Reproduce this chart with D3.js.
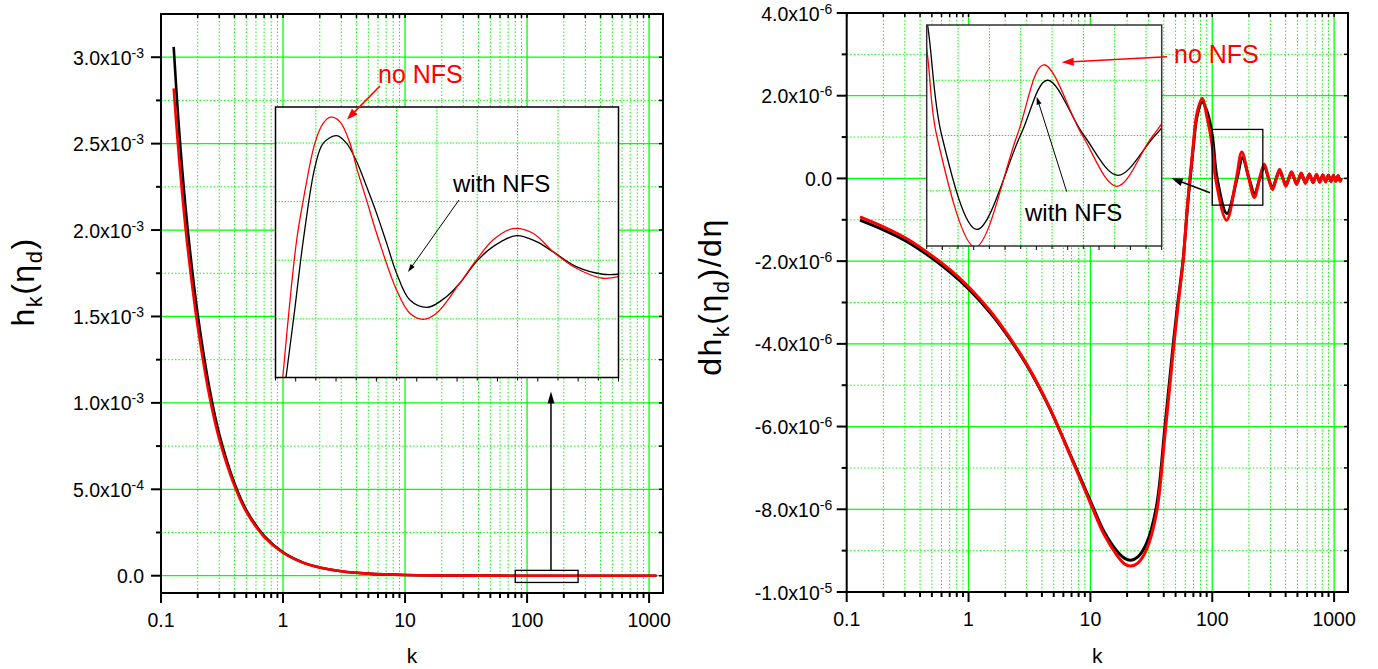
<!DOCTYPE html>
<html>
<head>
<meta charset="utf-8">
<script src="https://cdn.jsdelivr.net/npm/d3@7"></script>
<style>
  html, body { margin: 0; padding: 0; background: #fff; }
  text { font-family: "Liberation Sans", Arial, sans-serif; }
</style>
</head>
<body>
<script>
// ---------------- DATA ----------------
// Left panel: h_k(eta_d), values in units of 1e-3
const kMain      = [0.127, 0.14, 0.16, 0.18, 0.2, 0.25, 0.3, 0.4, 0.5, 0.7, 1, 1.5, 2, 3, 5, 10, 20, 50, 100, 200, 500, 1150];
const hWithNFS   = [3.06, 2.60, 2.11, 1.77, 1.51, 1.08, 0.82, 0.535, 0.38, 0.23, 0.135, 0.073, 0.048, 0.026, 0.012, 0.004, 0.0015, 0.0004, 0.0001, 0.00003, 0.00001, 0];
const hNoNFS     = [2.82, 2.43, 1.99, 1.68, 1.44, 1.035, 0.79, 0.52, 0.37, 0.225, 0.133, 0.072, 0.0475, 0.026, 0.012, 0.004, 0.0015, 0.0004, 0.0001, 0.00003, 0.00001, 0];

// Left inset (magnified oscillation, arbitrary units)
const insetKWith = [84, 85.2, 89.5, 93.8, 99.6, 103.7, 110.3, 115.2, 120.2, 125, 130.1, 135, 140, 146.6, 155.6, 164.7, 171.3, 179.6, 187.8, 199.4, 209.3, 217.5, 229.1, 242.3, 250];
const insetHWith = [-2.35, -2.0, -0.85, 0.346, 1.597, 1.997, 2.126, 1.997, 1.683, 1.27, 0.80, 0.30, -0.22, -0.677, -0.802, -0.621, -0.392, -0.024, 0.232, 0.42, 0.317, 0.147, -0.109, -0.239, -0.239];
const insetKNo   = [82.6, 83.6, 87, 90.5, 93.8, 99.6, 103.7, 107.3, 111.9, 116.9, 120.5, 125.1, 130.1, 140, 146.6, 153.2, 159.8, 171.3, 179.6, 187.8, 197.7, 207.6, 217.5, 229.1, 242.3, 250];
const insetHNo   = [-2.35, -2.0, -0.75, 0.346, 1.029, 2.007, 2.338, 2.44, 2.365, 1.997, 1.541, 1.029, 0.461, -0.507, -0.904, -1.007, -0.904, -0.392, 0.005, 0.346, 0.539, 0.461, 0.147, -0.137, -0.307, -0.28];

// Right panel: dh_k/deta, values in units of 1e-6
const kDerivWith = [0.1285, 0.2, 0.3, 0.45, 0.7, 1, 1.5, 2, 3, 4.5, 6.5, 10, 13, 16.4, 19, 21.5, 24.5, 28.8, 34.8, 40.9, 47.9, 52.5, 57.6, 63, 69.5, 75, 82.6, 91, 100, 109.6, 132, 159.8, 177, 200.4, 222, 245.8, 267, 290, 312, 335, 357, 380, 402, 425, 447, 470, 492, 515, 537, 560, 582, 605, 627, 650, 672, 695, 717, 740, 762, 785, 807, 830, 852, 875, 897, 920, 942, 965, 987, 1010, 1032, 1055, 1077, 1100, 1122, 1145];
const dhWithNFS  = [-1.01, -1.245, -1.50, -1.83, -2.26, -2.67, -3.24, -3.72, -4.51, -5.48, -6.53, -7.8, -8.55, -9.0, -9.18, -9.23, -9.15, -8.83, -7.94, -6.0, -3.99, -2.94, -1.98, -0.6, 0.68, 1.5, 1.85, 1.6, 1.05, 0, -0.85, 0, 0.50, 0, -0.36, 0, 0.29, 0, -0.23, 0, 0.19, 0, -0.16, 0, 0.14, 0, -0.125, 0, 0.115, 0, -0.105, 0, 0.10, 0, -0.095, 0, 0.09, 0, -0.085, 0, 0.08, 0, -0.075, 0, 0.075, 0, -0.07, 0, 0.07, 0, -0.065, 0, 0.065, 0, -0.06, 0];
const kDerivNo   = [0.1285, 0.2, 0.3, 0.45, 0.7, 1, 1.5, 2, 3, 4.5, 6.5, 10, 13, 16.4, 19, 21.5, 24.5, 28.8, 34.8, 40.9, 47.9, 52.5, 57.6, 63, 69.5, 75, 82.6, 91, 100, 106.4, 131, 157.7, 174.7, 199.4, 221.4, 244.5, 267, 290, 312, 335, 357, 380, 402, 425, 447, 470, 492, 515, 537, 560, 582, 605, 627, 650, 672, 695, 717, 740, 762, 785, 807, 830, 852, 875, 897, 920, 942, 965, 987, 1010, 1032, 1055, 1077, 1100, 1122, 1145];
const dhNoNFS    = [-0.93, -1.17, -1.43, -1.77, -2.2, -2.62, -3.2, -3.69, -4.49, -5.47, -6.55, -7.85, -8.62, -9.1, -9.32, -9.37, -9.3, -8.98, -8.1, -6.2, -4.15, -3.05, -2.0, -0.55, 0.75, 1.58, 1.93, 1.45, 0.78, 0, -1.01, 0, 0.64, 0, -0.46, 0, 0.34, 0, -0.27, 0, 0.22, 0, -0.19, 0, 0.16, 0, -0.145, 0, 0.13, 0, -0.12, 0, 0.11, 0, -0.105, 0, 0.10, 0, -0.095, 0, 0.09, 0, -0.085, 0, 0.08, 0, -0.08, 0, 0.075, 0, -0.075, 0, 0.07, 0, -0.07, 0];

// Tick values and labels
const xTickValues = [0.1, 1, 10, 100, 1000];
const xTickLabels = ["0.1", "1", "10", "100", "1000"];
const leftYTickValues = [0, 0.5, 1.0, 1.5, 2.0, 2.5, 3.0];
const leftYTickMant   = ["0.0", "5.0", "1.0", "1.5", "2.0", "2.5", "3.0"];
const leftYTickExp    = ["", "-4", "-3", "-3", "-3", "-3", "-3"];
const leftYMinor      = [0.25, 0.75, 1.25, 1.75, 2.25, 2.75];
const rightYTickValues = [-10, -8, -6, -4, -2, 0, 2, 4];
const rightYTickMant   = ["-1.0", "-8.0", "-6.0", "-4.0", "-2.0", "0.0", "2.0", "4.0"];
const rightYTickExp    = ["-5", "-6", "-6", "-6", "-6", "", "-6", "-6"];
const rightYMinor      = [-9, -7, -5, -3, -1, 1, 3];

// ---------------- DRAWING ----------------
const W = 1378, H = 669;
const GREEN = "#00ff00";
const svg = d3.select("body").append("svg").attr("width", W).attr("height", H);
const defs = svg.append("defs");
const CURVE = d3.curveCatmullRom.alpha(0.5);

const xMinorAll = [];
[0.1, 1, 10, 100, 1000].forEach(d => { for (let m = 2; m <= 9; m++) { const v = +(m * d).toPrecision(3); if (v < 1300) xMinorAll.push(v); } });

function clip(id, x, y, w, h) {
  defs.append("clipPath").attr("id", id).append("rect").attr("x", x).attr("y", y).attr("width", w).attr("height", h);
}

function arrow(g, x1, y1, x2, y2, color, lw, hl, hw) {
  const a = Math.atan2(y2 - y1, x2 - x1);
  const bx = x2 - hl * Math.cos(a), by = y2 - hl * Math.sin(a);
  g.append("line").attr("x1", x1).attr("y1", y1).attr("x2", bx + Math.cos(a)).attr("y2", by + Math.sin(a))
    .attr("stroke", color).attr("stroke-width", lw);
  const s = Math.sin(a), c = Math.cos(a);
  g.append("polygon").attr("points", [
    [x2, y2], [bx + hw / 2 * s, by - hw / 2 * c], [bx - hw / 2 * s, by + hw / 2 * c]
  ].map(p => p.join(",")).join(" ")).attr("fill", color);
}

function panel(cfg) {
  const { x0, x1, y0, y1, xs, ys, yMaj, yMin, yMant, yExp, id, labelGap, lw } = cfg;
  const g = svg.append("g");
  clip(id, x0, y0, x1 - x0, y1 - y0);
  const grid = g.append("g");
  xMinorAll.forEach(v => grid.append("line").attr("x1", xs(v)).attr("x2", xs(v)).attr("y1", y0).attr("y2", y1)
    .attr("stroke", GREEN).attr("stroke-width", 1).attr("stroke-dasharray", "1.5,2"));
  yMin.forEach(v => grid.append("line").attr("x1", x0).attr("x2", x1).attr("y1", ys(v)).attr("y2", ys(v))
    .attr("stroke", GREEN).attr("stroke-width", 1).attr("stroke-dasharray", "1.5,2"));
  xTickValues.slice(1).forEach(v => grid.append("line").attr("x1", xs(v)).attr("x2", xs(v)).attr("y1", y0).attr("y2", y1)
    .attr("stroke", GREEN).attr("stroke-width", 1.3));
  yMaj.forEach(v => { if (ys(v) > y0 + 1 && ys(v) < y1 - 1) grid.append("line").attr("x1", x0).attr("x2", x1).attr("y1", ys(v)).attr("y2", ys(v))
    .attr("stroke", GREEN).attr("stroke-width", 1.3); });
  const line = d3.line().x(d => xs(d[0])).y(d => ys(d[1])).curve(CURVE);
  const cg = g.append("g").attr("clip-path", `url(#${id})`);
  cg.append("path").attr("d", line(cfg.black)).attr("fill", "none").attr("stroke", "#000").attr("stroke-width", lw);
  cg.append("path").attr("d", line(cfg.red)).attr("fill", "none").attr("stroke", "#ff0000").attr("stroke-width", lw);
  const ax = g.append("g");
  ax.append("rect").attr("x", x0).attr("y", y0).attr("width", x1 - x0).attr("height", y1 - y0)
    .attr("fill", "none").attr("stroke", "#000").attr("stroke-width", 2);
  yMaj.forEach(v => ax.append("line").attr("x1", x0 - 10).attr("x2", x0).attr("y1", ys(v)).attr("y2", ys(v)).attr("stroke", "#000").attr("stroke-width", 2));
  yMin.forEach(v => ax.append("line").attr("x1", x0 - 5).attr("x2", x0).attr("y1", ys(v)).attr("y2", ys(v)).attr("stroke", "#000").attr("stroke-width", 2));
  yMaj.concat(yMin).forEach(v => ax.append("line").attr("x1", x1 - 4).attr("x2", x1).attr("y1", ys(v)).attr("y2", ys(v)).attr("stroke", "#000").attr("stroke-width", 1.5));
  xTickValues.forEach(v => ax.append("line").attr("x1", xs(v)).attr("x2", xs(v)).attr("y1", y1).attr("y2", y1 + 10).attr("stroke", "#000").attr("stroke-width", 2));
  xMinorAll.forEach(v => ax.append("line").attr("x1", xs(v)).attr("x2", xs(v)).attr("y1", y1).attr("y2", y1 + 5).attr("stroke", "#000").attr("stroke-width", 2));
  xTickValues.concat(xMinorAll).forEach(v => ax.append("line").attr("x1", xs(v)).attr("x2", xs(v)).attr("y1", y0).attr("y2", y0 + 4).attr("stroke", "#000").attr("stroke-width", 1.5));
  yMaj.forEach((v, i) => {
    const t = ax.append("text").attr("x", x0 - 10 - labelGap).attr("y", ys(v) + 7.5).attr("text-anchor", "end").attr("font-size", 19.5);
    t.append("tspan").text(yExp[i] ? yMant[i] + "x10" : yMant[i]);
    if (yExp[i]) t.append("tspan").attr("dy", -7).attr("font-size", 14).text(yExp[i]);
  });
  xTickValues.forEach((v, i) => ax.append("text").attr("x", xs(v)).attr("y", y1 + 34).attr("text-anchor", "middle").attr("font-size", 19.5).text(xTickLabels[i]));
  ax.append("text").attr("x", (x0 + x1) / 2).attr("y", 663).attr("text-anchor", "middle").attr("font-size", 21).text("k");
  return g;
}

function yTitle(x, y, parts) {
  const t = svg.append("text").attr("transform", `translate(${x},${y}) rotate(-90)`).attr("text-anchor", "middle")
    .attr("font-size", 32).attr("letter-spacing", 1.5);
  let cur = 0;
  parts.forEach(p => {
    const off = p.sub ? 8 : 0;
    t.append("tspan").attr("dy", off - cur).attr("font-size", p.sub ? 22 : 32).text(p.t);
    cur = off;
  });
}

function inset(cfg) {
  const { x0, x1, y0, y1, xs, ys, gx, gy, ticks, id } = cfg;
  const g = svg.append("g");
  clip(id, x0, y0, x1 - x0, y1 - y0);
  g.append("rect").attr("x", x0).attr("y", y0).attr("width", x1 - x0).attr("height", y1 - y0).attr("fill", "#fff");
  gx.forEach(v => g.append("line").attr("x1", xs(v)).attr("x2", xs(v)).attr("y1", y0).attr("y2", y1)
    .attr("stroke", GREEN).attr("stroke-width", 1).attr("stroke-dasharray", "1.5,1.5"));
  gy.forEach(v => g.append("line").attr("x1", x0).attr("x2", x1).attr("y1", ys(v)).attr("y2", ys(v))
    .attr("stroke", GREEN).attr("stroke-width", 1).attr("stroke-dasharray", "1.5,1.5"));
  const line = d3.line().x(d => xs(d[0])).y(d => ys(d[1])).curve(CURVE);
  const cg = g.append("g").attr("clip-path", `url(#${id})`);
  cg.append("path").attr("d", line(cfg.black)).attr("fill", "none").attr("stroke", "#000").attr("stroke-width", 1.3);
  cg.append("path").attr("d", line(cfg.red)).attr("fill", "none").attr("stroke", "#ff0000").attr("stroke-width", 1.3);
  g.append("rect").attr("x", x0).attr("y", y0).attr("width", x1 - x0).attr("height", y1 - y0)
    .attr("fill", "none").attr("stroke", cfg.border).attr("stroke-width", 1.5);
  ticks.forEach((v, i) => g.append("line").attr("x1", xs(v)).attr("x2", xs(v)).attr("y1", y1).attr("y2", y1 + (i % 2 === 0 ? 3 : 4))
    .attr("stroke", "#000").attr("stroke-width", 1));
  return g;
}

// ---- Left panel ----
const xL = d3.scaleLog().domain([0.1, 1300]).range([161, 663]);
const yL = d3.scaleLinear().domain([-0.1, 3.25]).range([593, 14]);
panel({ id: "clipL", x0: 161, x1: 663, y0: 14, y1: 593, xs: xL, ys: yL,
  yMaj: leftYTickValues, yMin: leftYMinor, yMant: leftYTickMant, yExp: leftYTickExp, labelGap: 7, lw: 2.6,
  black: d3.zip(kMain, hWithNFS), red: d3.zip(kMain, hNoNFS) });
yTitle(34, 282, [{ t: "h" }, { t: "k", sub: true }, { t: "(η" }, { t: "d", sub: true }, { t: ")" }]);

const ixL = d3.scaleLinear().domain([80, 250]).range([275.5, 618.5]);
const iyL = d3.scaleLinear().domain([-2, 2.614]).range([377.5, 107]);
inset({ id: "clipIL", x0: 275.5, x1: 618.5, y0: 107, y1: 377.5, xs: ixL, ys: iyL,
  gx: d3.range(100, 250, 20), gy: [-1, 0, 1, 2], ticks: d3.range(80, 251, 10), border: "#000",
  black: d3.zip(insetKWith, insetHWith), red: d3.zip(insetKNo, insetHNo) });

const annL = svg.append("g");
annL.append("rect").attr("x", xL(80)).attr("y", yL(0.031)).attr("width", xL(262) - xL(80)).attr("height", yL(-0.039) - yL(0.031))
  .attr("fill", "none").attr("stroke", "#000").attr("stroke-width", 1.3);
arrow(annL, xL(157), yL(0.031), xL(157), 391.5, "#000", 1.5, 12, 7);
annL.append("text").attr("x", 378).attr("y", 83).attr("font-size", 25).attr("fill", "#ff0000").text("no NFS");
arrow(annL, 380, 86, 347, 119.5, "#ff0000", 1.6, 11, 8);
annL.append("text").attr("x", 453).attr("y", 192).attr("font-size", 24).attr("fill", "#000").text("with NFS");
arrow(annL, 459, 200, 408, 272, "#000", 1, 8, 5);

// ---- Right panel ----
const xR = d3.scaleLog().domain([0.1, 1300]).range([846.7, 1348]);
const yR = d3.scaleLinear().domain([-10, 4]).range([592, 13]);
panel({ id: "clipR", x0: 846.7, x1: 1348, y0: 13, y1: 592, xs: xR, ys: yR,
  yMaj: rightYTickValues, yMin: rightYMinor, yMant: rightYTickMant, yExp: rightYTickExp, labelGap: 4.5, lw: 3,
  black: d3.zip(kDerivWith, dhWithNFS), red: d3.zip(kDerivNo, dhNoNFS) });
yTitle(721, 297, [{ t: "dh" }, { t: "k", sub: true }, { t: "(η" }, { t: "d", sub: true }, { t: ")/dη" }]);

const ixR = d3.scaleLinear().domain([100, 250]).range([926.7, 1161.7]);
const iyR = d3.scaleLinear().domain([-1, 1]).range([246, 25]);
inset({ id: "clipIR", x0: 926.7, x1: 1161.7, y0: 25, y1: 246, xs: ixR, ys: iyR,
  gx: d3.range(120, 250, 20), gy: [-0.5, 0, 0.5], ticks: d3.range(100, 251, 10), border: "#333",
  black: d3.zip(kDerivWith, dhWithNFS), red: d3.zip(kDerivNo, dhNoNFS) });

const annR = svg.append("g");
annR.append("rect").attr("x", xR(100)).attr("y", yR(1.185)).attr("width", xR(260) - xR(100)).attr("height", yR(-0.646) - yR(1.185))
  .attr("fill", "none").attr("stroke", "#000").attr("stroke-width", 1.3);
arrow(annR, 1210, 192.7, 1171.7, 178.3, "#000", 1.5, 11, 8);
annR.append("text").attr("x", 1174).attr("y", 63).attr("font-size", 25).attr("fill", "#ff0000").text("no NFS");
arrow(annR, 1167, 56.7, 1061.7, 62.3, "#ff0000", 1.6, 12, 8);
annR.append("text").attr("x", 1025).attr("y", 221).attr("font-size", 24).attr("fill", "#000").text("with NFS");
arrow(annR, 1066.7, 191.7, 1036.7, 96.7, "#000", 1, 8, 5);
</script>
</body>
</html>
